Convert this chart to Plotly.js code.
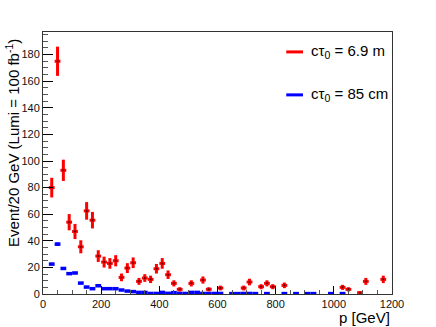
<!DOCTYPE html>
<html>
<head>
<meta charset="utf-8">
<script src="https://cdn.plot.ly/plotly-3.0.1.min.js"></script>
<style>
  body { margin: 0; background: #fff; }
  #plot { width: 436px; height: 327px; }
</style>
</head>
<body>
<div id="plot"></div>
<script>
// red: c tau = 6.9 m (bin centres in GeV, events per 20 GeV, stat errors)
const redP = [30, 50, 70, 90, 110, 130, 150, 170, 190, 210, 230, 250, 270, 290, 310, 330, 350, 370, 390, 410,
  430, 450, 470, 510, 550, 570, 610, 690, 710, 750, 770, 790, 830, 1030, 1050, 1090, 1110, 1170];
const redN = [80, 175, 93, 54, 47, 35.5, 62.5, 55.5, 28.5, 24, 23, 25, 12.5, 19.5, 23.5, 9.5, 12, 11, 19, 23,
  14.5, 8, 3.5, 8, 10.5, 3.5, 4.5, 4.5, 9, 5.5, 8, 5.5, 6.5, 5, 3.5, 1, 9.5, 11];
const redErr = [7.4, 11, 8, 6.1, 5.7, 4.9, 6.6, 6.2, 4.4, 4.1, 4, 4.2, 2.9, 3.7, 4, 2.6, 2.9, 2.8, 3.6, 4,
  3.2, 2.3, 1.6, 2.3, 2.7, 1.6, 1.8, 1.8, 2.5, 1.9, 2.3, 1.9, 2.1, 1.9, 1.6, 0.8, 2.6, 2.8];

// blue: c tau = 85 cm
const blueP = [30, 50, 70, 90, 110, 130, 150, 170, 190, 210, 230, 250, 270, 290, 310, 330, 350, 370, 390, 410,
  430, 450, 470, 490, 510, 530, 550, 570, 590, 610, 650, 670, 690, 710, 730, 770, 830, 870, 910, 930, 990, 1030];
const blueN = [22.5, 37.5, 19.2, 15.3, 15.8, 8.2, 5.2, 4, 6.2, 4, 4, 4, 3, 2.2, 1.8, 1.2, 1.2, 0.4, 0.4, 1.2,
  0.5, 1, 0.5, 0.4, 1.2, 1.2, 0.4, 0.4, 0.4, 0.4, 0.3, 0.3, 0.4, 0.4, 0.3, 0.3, 0.3, 0.3, 0.3, 0.3, 0.3, 0.3];
const blueErr = [0.9, 1.2, 0.9, 0.8, 0.8, 0.6, 0.5, 0.4, 0.5, 0.4, 0.4, 0.4, 0.3, 0.3, 0.3, 0.2, 0.2, 0.1, 0.1, 0.2,
  0.1, 0.2, 0.1, 0.1, 0.2, 0.2, 0.1, 0.1, 0.1, 0.1, 0.1, 0.1, 0.1, 0.1, 0.1, 0.1, 0.1, 0.1, 0.1, 0.1, 0.1, 0.1];

const binHalf = 10;
const font = 'Liberation Sans, Arial, sans-serif';

const blueTrace = {
  x: blueP, y: blueN, type: 'scatter', mode: 'markers',
  marker: { color: '#0000ff', size: 2 },
  error_x: { type: 'constant', value: binHalf, color: '#0000ff', thickness: 3.5, width: 0 },
  error_y: { type: 'data', array: blueErr, color: '#0000ff', thickness: 3.5, width: 0 },
  showlegend: false, hoverinfo: 'skip'
};

const redTrace = {
  x: redP, y: redN, type: 'scatter', mode: 'markers',
  marker: { color: '#550000', size: 2 },
  error_x: { type: 'constant', value: binHalf, color: '#ff0000', thickness: 3, width: 0 },
  error_y: { type: 'data', array: redErr, color: '#ff0000', thickness: 3, width: 0 },
  showlegend: false, hoverinfo: 'skip'
};

const layout = {
  width: 436, height: 327,
  margin: { l: 43, r: 44, t: 32, b: 33 },
  paper_bgcolor: '#fff', plot_bgcolor: '#fff',
  font: { family: font, color: '#000' },
  showlegend: false,
  xaxis: {
    range: [0, 1200], showgrid: false, zeroline: false,
    showline: true, linecolor: '#333', linewidth: 1, mirror: true,
    ticks: 'inside', ticklen: 8, tickcolor: '#000', dtick: 200, tick0: 0,
    tickfont: { size: 11, family: font, color: '#111' },
    minor: { dtick: 50, ticks: 'inside', ticklen: 4, tickcolor: '#555', showgrid: false }
  },
  yaxis: {
    range: [0, 197], showgrid: false, zeroline: false,
    showline: true, linecolor: '#333', linewidth: 1, mirror: true,
    ticks: 'inside', ticklen: 10, tickcolor: '#000', dtick: 20, tick0: 0,
    tickfont: { size: 11, family: font, color: '#111' },
    minor: { dtick: 5, ticks: 'inside', ticklen: 5, tickcolor: '#555', showgrid: false }
  },
  shapes: [
    { type: 'line', xref: 'paper', yref: 'paper', x0: 0.697, x1: 0.745, y0: 0.924, y1: 0.924,
      line: { color: '#ff0000', width: 3 } },
    { type: 'line', xref: 'paper', yref: 'paper', x0: 0.697, x1: 0.745, y0: 0.76, y1: 0.76,
      line: { color: '#0000ff', width: 3 } }
  ],
  annotations: [
    { text: 'Event/20 GeV (Lumi = 100 fb<sup>-1</sup>)', xref: 'paper', yref: 'paper',
      x: -0.089, y: 1, xanchor: 'center', yanchor: 'top', yshift: -5, textangle: -90,
      showarrow: false, font: { size: 15, family: font, color: '#000' } },
    { text: 'p [GeV]', xref: 'paper', yref: 'paper', x: 1, y: -0.088,
      xanchor: 'right', yanchor: 'middle', showarrow: false,
      font: { size: 15, family: font, color: '#000' } },
    { text: 'cτ<sub>0</sub> = 6.9 m', xref: 'paper', yref: 'paper', x: 0.763, y: 0.924,
      xanchor: 'left', yanchor: 'middle', showarrow: false,
      font: { size: 15, family: font, color: '#000' } },
    { text: 'cτ<sub>0</sub> = 85 cm', xref: 'paper', yref: 'paper', x: 0.763, y: 0.76,
      xanchor: 'left', yanchor: 'middle', showarrow: false,
      font: { size: 15, family: font, color: '#000' } }
  ]
};

Plotly.newPlot('plot', [blueTrace, redTrace], layout, { displayModeBar: false, staticPlot: true });
</script>
</body>
</html>
